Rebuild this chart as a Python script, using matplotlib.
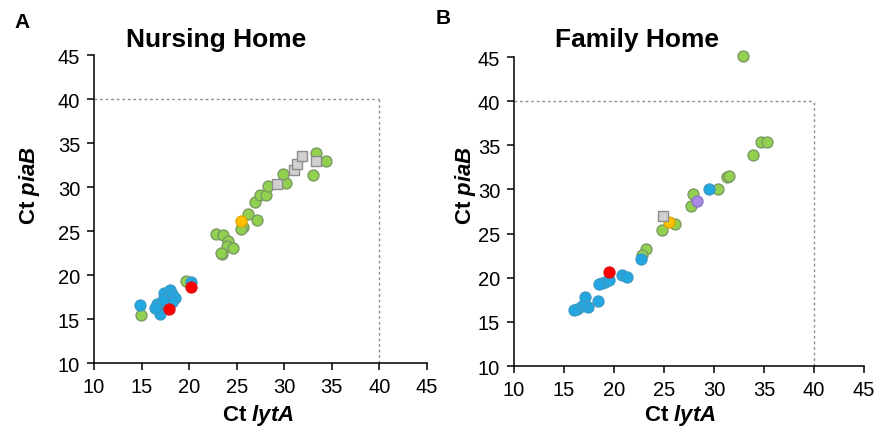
import numpy as np
import matplotlib
matplotlib.use("Agg")
import matplotlib.pyplot as plt

plt.rcParams['font.family'] = ['Liberation Sans', 'DejaVu Sans']
plt.rcParams['mathtext.fontset'] = 'custom'
plt.rcParams['mathtext.rm'] = 'Liberation Sans'
plt.rcParams['mathtext.bfit'] = 'Liberation Sans:bold:italic'

# Nursing Home (panel A): Ct lytA, Ct piaB
nh_green_x = [14.9, 19.65, 22.8, 23.6, 24.1, 24.0, 24.6, 23.5, 23.3, 25.7, 25.5, 26.2, 27.1,
              26.9, 27.4, 28.1, 28.3, 30.2, 29.9, 33.3, 34.4, 33.0]
nh_green_y = [15.4, 19.3, 24.7, 24.5, 23.9, 23.3, 23.1, 22.4, 22.5, 25.5, 25.2, 26.9, 26.3,
              28.3, 29.1, 29.1, 30.1, 30.4, 31.5, 33.9, 33.0, 31.4]
nh_blue_x = [14.8, 17.4, 18.0, 18.2, 18.5, 16.6, 16.8, 16.9, 17.6, 18.2, 16.4, 17.2, 20.2]
nh_blue_y = [16.6, 18.0, 18.3, 17.8, 17.4, 16.7, 16.1, 15.6, 16.7, 16.9, 16.3, 17.2, 19.2]
nh_red_x = [17.9, 20.2]
nh_red_y = [16.1, 18.6]
nh_orange_x = [25.5]
nh_orange_y = [26.1]
nh_gray_x = [29.2, 31.0, 31.3, 31.9, 33.3]
nh_gray_y = [30.3, 31.9, 32.6, 33.5, 33.0]
nh_purple_x = []
nh_purple_y = []

# Family Home (panel B)
fh_green_x = [32.9, 34.7, 35.3, 33.9, 31.3, 31.5, 30.4, 27.9, 27.7, 26.1, 24.8, 23.2, 22.8]
fh_green_y = [45.1, 35.4, 35.4, 33.9, 31.4, 31.55, 30.0, 29.5, 28.1, 26.1, 25.4, 23.25, 22.6]
fh_blue_x = [29.5, 22.7, 20.8, 21.3, 18.8, 19.1, 19.5, 18.5, 17.1, 18.4, 17.4, 16.8, 16.3, 16.0]
fh_blue_y = [30.0, 22.1, 20.3, 20.1, 19.4, 19.5, 19.7, 19.3, 17.8, 17.4, 16.7, 16.8, 16.5, 16.3]
fh_red_x = [19.5]
fh_red_y = [20.6]
fh_orange_x = [25.5]
fh_orange_y = [26.3]
fh_gray_x = [24.9]
fh_gray_y = [27.0]
fh_purple_x = [28.3]
fh_purple_y = [28.7]

ticks = [10, 15, 20, 25, 30, 35, 40, 45]

fig = plt.figure(figsize=(8.77, 4.35), dpi=100)
axA = fig.add_axes([0.1072, 0.1632, 0.3797, 0.708])
axB = fig.add_axes([0.5861, 0.1563, 0.3991, 0.7103])

def draw(ax, g, b, r, o, gr, p):
    ax.plot([10, 40], [40, 40], color='#909090', lw=1, ls=(0, (2, 2)), zorder=1)
    ax.plot([40, 40], [10, 40], color='#909090', lw=1, ls=(0, (2, 2)), zorder=1)
    s = 62
    ax.scatter(g[0], g[1], s=s, c='#92D050', edgecolors='#7A9A62', linewidths=1, zorder=3)
    ax.scatter(b[0], b[1], s=s, c='#22A7E0', edgecolors='#3A9AC8', linewidths=1, zorder=3)
    ax.scatter(r[0], r[1], s=s, c='#FF0000', edgecolors='#E01010', linewidths=1, zorder=4)
    ax.scatter(o[0], o[1], s=s, c='#FFC000', edgecolors='#E0A800', linewidths=1, zorder=4)
    ax.scatter(gr[0], gr[1], s=s, marker='s', c='#D0D0D0', edgecolors='#8C8C8C',
               linewidths=1, zorder=4)
    if len(p[0]):
        ax.scatter(p[0], p[1], s=s, c='#A98AE8', edgecolors='#8E74C8', linewidths=1, zorder=4)
    ax.set_xlim(10, 45)
    ax.set_ylim(10, 45)
    ax.set_xticks(ticks)
    ax.set_yticks(ticks)
    ax.spines['top'].set_visible(False)
    ax.spines['right'].set_visible(False)
    for sp in ['left', 'bottom']:
        ax.spines[sp].set_linewidth(1.1)
    ax.tick_params(direction='out', length=5, width=1.1, labelsize=14.5, pad=5)
    for c in ax.collections:
        c.set_clip_on(False)

draw(axA, (nh_green_x, nh_green_y), (nh_blue_x, nh_blue_y), (nh_red_x, nh_red_y),
     (nh_orange_x, nh_orange_y), (nh_gray_x, nh_gray_y), (nh_purple_x, nh_purple_y))
draw(axB, (fh_green_x, fh_green_y), (fh_blue_x, fh_blue_y), (fh_red_x, fh_red_y),
     (fh_orange_x, fh_orange_y), (fh_gray_x, fh_gray_y), (fh_purple_x, fh_purple_y))

# labels
fig.text(22/877, 1-22/435, 'A', fontsize=15, fontweight='bold', ha='center', va='center')
fig.text(443/877, 1-18/435, 'B', fontsize=15, fontweight='bold', ha='center', va='center')
fig.text(216/877, 1-40/435, 'Nursing Home', fontsize=19, fontweight='bold', ha='center', va='center')
fig.text(637/877, 1-40/435, 'Family Home', fontsize=19, fontweight='bold', ha='center', va='center')
for xc in [258, 680]:
    fig.text(xc/877, 1-416/435, r'Ct $\mathbfit{lytA}$', fontsize=16, fontweight='bold',
             ha='center', va='center')
for xc in [30, 465]:
    fig.text(xc/877, 1-185/435, r'Ct $\mathbfit{piaB}$', fontsize=16, fontweight='bold',
             ha='center', va='center', rotation=90)

fig.savefig('out.png', dpi=100)
